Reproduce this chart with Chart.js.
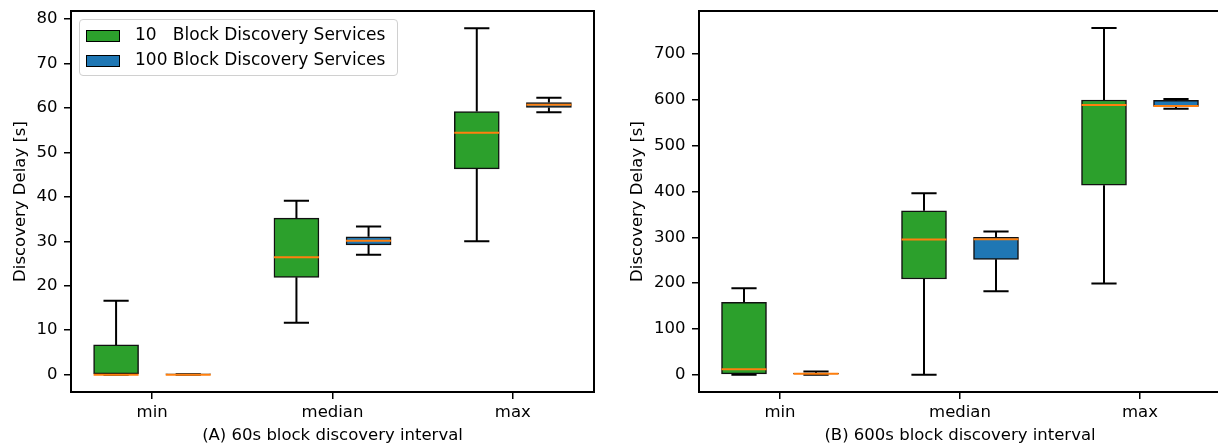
<!DOCTYPE html>
<html>
<head>
<meta charset="utf-8">
<script src="https://cdn.jsdelivr.net/npm/chart.js@4"></script>
<style>
  html, body { margin: 0; padding: 0; background: #fff; overflow: hidden; }
  #wrap { position: relative; width: 1218px; height: 447px; overflow: hidden; }
  .panel { position: absolute; top: 0; height: 447px; }
  .panel canvas { display: block; }
  #legend {
    position: absolute; left: 79px; top: 19px; width: 317px; height: 55px;
    border: 1px solid #d0d0d0; border-radius: 4px; background: rgba(255,255,255,0.8);
    font-family: 'DejaVu Sans', sans-serif; font-size: 17px; color: #000;
  }
  #legend .row { position: absolute; left: 6px; height: 20px; white-space: pre; }
  #legend .sw { position: absolute; left: 0; top: 3px; width: 32px; height: 10px; border: 1.5px solid #000; }
  #legend .txt { position: absolute; left: 49px; top: -3px; }
</style>
</head>
<body>
<div id="wrap">
  <div class="panel" style="left:0;width:610px;"><canvas id="chartA" width="610" height="447" style="width:610px;height:447px;"></canvas></div>
  <div class="panel" style="left:610px;width:620px;"><canvas id="chartB" width="620" height="447" style="width:620px;height:447px;"></canvas></div>
  <div id="legend"></div>
</div>
<script>
// categories and legend
var categories = ['min', 'median', 'max'];
var seriesLabels = ['10   Block Discovery Services', '100 Block Discovery Services'];
var seriesColors = ['#2ca02c', '#1f77b4'];

// (A) 60s interval, 10 services
var a10Low = [0, 11.7, 30.0];
var a10Q1 = [0, 21.9, 46.3];
var a10Med = [0, 26.4, 54.4];
var a10Q3 = [6.7, 35.2, 59.2];
var a10High = [16.6, 39.1, 77.9];
// (A) 60s interval, 100 services
var a100Low = [0, 27.0, 59.0];
var a100Q1 = [0, 29.2, 60.1];
var a100Med = [0, 30.1, 60.7];
var a100Q3 = [0.1, 31.0, 61.2];
var a100High = [0.1, 33.3, 62.3];

// (B) 600s interval, 10 services
var b10Low = [0, 0, 199];
var b10Q1 = [0, 209, 414];
var b10Med = [12, 295, 589];
var b10Q3 = [158, 358, 600];
var b10High = [189, 396, 757];
// (B) 600s interval, 100 services
var b100Low = [0, 182, 581];
var b100Q1 = [0, 252, 586];
var b100Med = [2, 296, 587];
var b100Q3 = [3, 300, 599];
var b100High = [7, 313, 602];

var yTicksA = [0, 10, 20, 30, 40, 50, 60, 70, 80];
var yTicksB = [0, 100, 200, 300, 400, 500, 600, 700];

var FONT = "'DejaVu Sans', sans-serif";
var BOX_OFFSET = 0.2;

Chart.defaults.font.family = FONT;
Chart.defaults.color = '#000';

function makeDataset(idx, low, q1, med, q3, high) {
  var off = idx === 0 ? -BOX_OFFSET : BOX_OFFSET;
  return {
    label: seriesLabels[idx],
    data: categories.map(function (c, i) { return { x: i + 1 + off, y: [q1[i], q3[i]] }; }),
    backgroundColor: seriesColors[idx],
    borderColor: '#111',
    borderWidth: 1.5,
    borderSkipped: false,
    barThickness: 45,
    grouped: false,
    low: low, med: med, high: high,
  };
}

// whiskers, caps and medians on top of the floating bars
var boxPlugin = {
  id: 'boxWhiskers',
  afterDatasetsDraw: function (chart) {
    var ctx = chart.ctx;
    var y = chart.scales.y;
    ctx.save();
    chart.data.datasets.forEach(function (ds, di) {
      var meta = chart.getDatasetMeta(di);
      meta.data.forEach(function (bar, i) {
        var xc = bar.x;
        var half = bar.width / 2;
        var cap = bar.width * 0.28;
        var yLow = y.getPixelForValue(ds.low[i]);
        var yHigh = y.getPixelForValue(ds.high[i]);
        var yQ1 = y.getPixelForValue(ds.data[i].y[0]);
        var yQ3 = y.getPixelForValue(ds.data[i].y[1]);
        var yMed = y.getPixelForValue(ds.med[i]);
        ctx.strokeStyle = '#000';
        ctx.lineWidth = 2;
        ctx.beginPath();
        ctx.moveTo(xc, yQ3); ctx.lineTo(xc, yHigh);
        ctx.moveTo(xc, yQ1); ctx.lineTo(xc, yLow);
        ctx.moveTo(xc - cap, yHigh); ctx.lineTo(xc + cap, yHigh);
        ctx.moveTo(xc - cap, yLow); ctx.lineTo(xc + cap, yLow);
        ctx.stroke();
        ctx.strokeStyle = '#ff7f0e';
        ctx.beginPath();
        ctx.moveTo(xc - half, yMed); ctx.lineTo(xc + half, yMed);
        ctx.stroke();
      });
    });
    ctx.restore();
  },
  afterDraw: function (chart) {
    var a = chart.chartArea;
    var ctx = chart.ctx;
    ctx.save();
    ctx.strokeStyle = '#000';
    ctx.lineWidth = 2;
    ctx.strokeRect(a.left, a.top, a.right - a.left, a.bottom - a.top);
    ctx.restore();
  },
};

function noEdgePadding(s) {
  s.paddingTop = 0;
  s.paddingBottom = 0;
  s.paddingLeft = 0;
  s.paddingRight = 0;
}

function makeChart(canvasId, datasets, yTicks, yMin, yMax, yAxisWidth, yTitlePad, xTitle, padRight) {
  var ctx = document.getElementById(canvasId).getContext('2d');
  return new Chart(ctx, {
    type: 'bar',
    data: { datasets: datasets },
    plugins: [boxPlugin],
    options: {
      responsive: false,
      maintainAspectRatio: false,
      animation: false,
      layout: { padding: { top: 11, right: padRight, bottom: 0, left: 0 } },
      plugins: { legend: { display: false }, tooltip: { enabled: false } },
      scales: {
        x: {
          type: 'linear',
          min: 0.55,
          max: 3.45,
          offset: false,
          afterFit: function (s) { s.height = 55; noEdgePadding(s); },
          afterBuildTicks: function (s) {
            s.ticks = categories.map(function (c, i) { return { value: i + 1 }; });
          },
          ticks: {
            autoSkip: false, maxRotation: 0, padding: 4,
            font: { size: 16.5 },
            callback: function (v) { return categories[v - 1]; },
          },
          grid: { offset: false, drawOnChartArea: false, drawTicks: true, tickLength: 7, color: '#000', lineWidth: 1.5 },
          border: { display: false },
          title: { display: true, text: xTitle, font: { size: 16.5 }, padding: { top: 0, bottom: 1 } },
        },
        y: {
          min: yMin,
          max: yMax,
          afterFit: function (s) { s.width = yAxisWidth; noEdgePadding(s); },
          afterBuildTicks: function (s) {
            s.ticks = yTicks.map(function (v) { return { value: v }; });
          },
          ticks: { padding: 6.5, font: { size: 16.5 } },
          grid: { drawOnChartArea: false, drawTicks: true, tickLength: 7, color: '#000', lineWidth: 1.5 },
          border: { display: false },
          title: { display: true, text: 'Discovery Delay [s]', font: { size: 16.5 }, padding: { top: yTitlePad, bottom: 0 } },
        },
      },
    },
  });
}

makeChart('chartA', [
  makeDataset(0, a10Low, a10Q1, a10Med, a10Q3, a10High),
  makeDataset(1, a100Low, a100Q1, a100Med, a100Q3, a100High),
], yTicksA, -3.9, 81.8, 71, 11, '(A) 60s block discovery interval', 16);

makeChart('chartB', [
  makeDataset(0, b10Low, b10Q1, b10Med, b10Q3, b10High),
  makeDataset(1, b100Low, b100Q1, b100Med, b100Q3, b100High),
], yTicksB, -37.8, 794.3, 89, 18, '(B) 600s block discovery interval', 9);

// legend inside panel A
var legend = document.getElementById('legend');
seriesLabels.forEach(function (label, i) {
  var row = document.createElement('div');
  row.className = 'row';
  row.style.top = (7 + i * 25) + 'px';
  var sw = document.createElement('div');
  sw.className = 'sw';
  sw.style.background = seriesColors[i];
  var txt = document.createElement('span');
  txt.className = 'txt';
  txt.textContent = label;
  row.appendChild(sw);
  row.appendChild(txt);
  legend.appendChild(row);
});
</script>
</body>
</html>
